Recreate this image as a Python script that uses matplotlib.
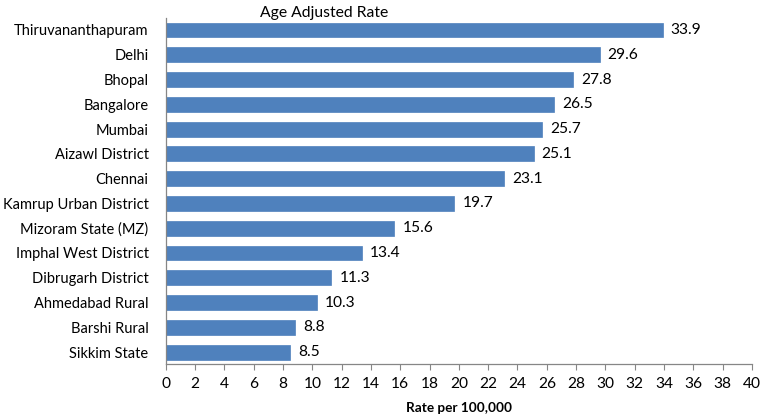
import matplotlib
matplotlib.use("Agg")
import matplotlib.pyplot as plt

categories = ["Thiruvananthapuram", "Delhi", "Bhopal", "Bangalore", "Mumbai",
              "Aizawl District", "Chennai", "Kamrup Urban District",
              "Mizoram State (MZ)", "Imphal West District", "Dibrugarh District",
              "Ahmedabad Rural", "Barshi Rural", "Sikkim State"]
values = [33.9, 29.6, 27.8, 26.5, 25.7, 25.1, 23.1, 19.7, 15.6, 13.4, 11.3, 10.3, 8.8, 8.5]
xticks = list(range(0, 41, 2))

plt.rcParams['font.family'] = ['Lato', 'DejaVu Sans']

fig = plt.figure(figsize=(7.61, 4.18), dpi=100)
ax = fig.add_axes([0.218, 0.128, 0.770, 0.830])

ypos = list(range(len(categories)))
ax.barh(ypos, values, height=0.6, color="#4F81BD", edgecolor="#4F81BD", linewidth=0.5)
ax.set_ylim(len(categories) - 0.5, -0.5)
ax.set_xlim(0, 40)
ax.set_yticks(ypos)
ax.set_yticklabels(categories, fontsize=10.5, color="#000000")
ax.set_xticks(xticks)
ax.set_xticklabels([str(t) for t in xticks], fontsize=11.2)
ax.tick_params(axis='y', length=0, pad=12.5)
ax.tick_params(axis='x', length=4, color="#868686", pad=5)

for s in ["top", "right"]:
    ax.spines[s].set_visible(False)
for s in ["left", "bottom"]:
    ax.spines[s].set_color("#868686")
    ax.spines[s].set_linewidth(0.9)

for y, v in zip(ypos, values):
    ax.text(v + 0.55, y, f"{v:.1f}", va="center", ha="left", fontsize=11.2)

ax.set_xlabel("Rate per 100,000", fontsize=9.8, fontweight="bold", labelpad=8)
fig.text(0.426, 0.985, "Age Adjusted Rate", ha="center", va="top", fontsize=11.3)

fig.savefig("out.png", dpi=100)
